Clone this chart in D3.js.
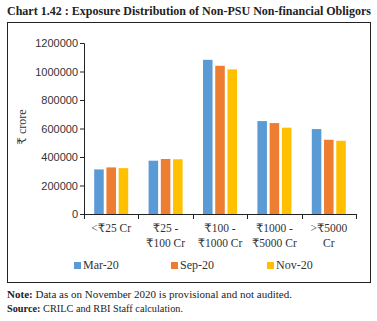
<!DOCTYPE html>
<html>
<head>
<meta charset="utf-8">
<script src="https://cdn.jsdelivr.net/npm/d3@7/dist/d3.min.js"></script>
<style>
  body { margin: 0; background: #fff; }
  svg { display: block; }
  .serif { font-family: "Liberation Serif", "DejaVu Serif", "Noto Sans", serif; }
  .sans { font-family: "Liberation Sans", "DejaVu Sans", sans-serif; }
</style>
</head>
<body>
<div id="chart"></div>
<script>
const CATEGORIES = [
  ["<\u20B925 Cr"],
  ["\u20B925 -", "\u20B9100 Cr"],
  ["\u20B9100 -", "\u20B91000 Cr"],
  ["\u20B91000 -", "\u20B95000 Cr"],
  [">\u20B95000", "Cr"]
];
const SERIES = ["Mar-20", "Sep-20", "Nov-20"];
const MAR_20 = [313000, 374000, 1082000, 652000, 596000];
const SEP_20 = [327000, 386000, 1040000, 638000, 521000];
const NOV_20 = [322000, 384000, 1015000, 606000, 514000];
const Y_TICKS = [0, 200000, 400000, 600000, 800000, 1000000, 1200000];
const COLORS = ["#5B9BD5", "#ED7D31", "#FFC000"];

const VALUES = [MAR_20, SEP_20, NOV_20];

const WIDTH = 377;
const HEIGHT = 321;
const PLOT = { LEFT: 84, RIGHT: 356, TOP: 43, BOTTOM: 214 };

const SVG = d3.select("#chart").append("svg")
  .attr("width", WIDTH)
  .attr("height", HEIGHT);

// title
SVG.append("text")
  .attr("class", "serif")
  .attr("x", 7)
  .attr("y", 15)
  .attr("font-size", 12)
  .attr("font-weight", "bold")
  .attr("fill", "#222")
  .attr("textLength", 364)
  .attr("lengthAdjust", "spacingAndGlyphs")
  .text("Chart 1.42 : Exposure Distribution of Non-PSU Non-financial Obligors");

// frame
SVG.append("rect")
  .attr("x", 7.5)
  .attr("y", 22.5)
  .attr("width", 363)
  .attr("height", 260)
  .attr("fill", "none")
  .attr("stroke", "#222")
  .attr("stroke-width", 1);

const X_SCALE = d3.scaleBand()
  .domain(d3.range(CATEGORIES.length))
  .range([PLOT.LEFT, PLOT.RIGHT])
  .paddingInner(0.375)
  .paddingOuter(0.1875);

const X_INNER = d3.scaleBand()
  .domain(d3.range(SERIES.length))
  .range([0, X_SCALE.bandwidth()])
  .paddingInner(0.22);

const Y_SCALE = d3.scaleLinear()
  .domain([0, 1200000])
  .range([PLOT.BOTTOM, PLOT.TOP]);

// bars
SERIES.forEach((s, si) => {
  SVG.append("g")
    .selectAll("rect")
    .data(VALUES[si])
    .enter()
    .append("rect")
    .attr("x", (d, i) => X_SCALE(i) + X_INNER(si))
    .attr("y", (d) => Y_SCALE(d))
    .attr("width", X_INNER.bandwidth())
    .attr("height", (d) => PLOT.BOTTOM - Y_SCALE(d))
    .attr("fill", COLORS[si]);
});

// y axis
const Y_AXIS = SVG.append("g")
  .attr("transform", "translate(" + PLOT.LEFT + ",0)")
  .call(d3.axisLeft(Y_SCALE).tickValues(Y_TICKS).tickSize(4).tickPadding(2).tickFormat(d3.format("d")));
Y_AXIS.select(".domain").attr("stroke", "#222");
Y_AXIS.selectAll(".tick line").attr("stroke", "#222");
Y_AXIS.selectAll(".tick text")
  .attr("class", "sans")
  .attr("font-size", 11)
  .attr("fill", "#333");

// x axis line and ticks at band edges
const EDGES = d3.range(CATEGORIES.length + 1).map((i) =>
  i < CATEGORIES.length ? X_SCALE(i) - X_SCALE.step() * X_SCALE.paddingInner() / 2 : PLOT.RIGHT
);
EDGES[0] = PLOT.LEFT;
SVG.append("line")
  .attr("x1", PLOT.LEFT).attr("x2", PLOT.RIGHT)
  .attr("y1", PLOT.BOTTOM + 0.5).attr("y2", PLOT.BOTTOM + 0.5)
  .attr("stroke", "#222");
SVG.append("g")
  .selectAll("line")
  .data(EDGES)
  .enter()
  .append("line")
  .attr("x1", (d) => Math.round(d) + 0.5)
  .attr("x2", (d) => Math.round(d) + 0.5)
  .attr("y1", PLOT.BOTTOM)
  .attr("y2", PLOT.BOTTOM + 5)
  .attr("stroke", "#222");

// category labels
const CAT_LABELS = SVG.append("g")
  .selectAll("text")
  .data(CATEGORIES)
  .enter()
  .append("text")
  .attr("class", "serif")
  .attr("font-size", 11.5)
  .attr("fill", "#333")
  .attr("text-anchor", "middle");
CAT_LABELS.selectAll("tspan")
  .data((d, i) => d.map((line) => ({ line: line, i: i })))
  .enter()
  .append("tspan")
  .attr("x", (d) => X_SCALE(d.i) + X_SCALE.bandwidth() / 2)
  .attr("y", (d, j) => 232 + j * 15)
  .text((d) => d.line);

// y axis title
SVG.append("text")
  .attr("class", "serif")
  .attr("font-size", 12)
  .attr("fill", "#333")
  .attr("text-anchor", "middle")
  .attr("transform", "translate(26,127) rotate(-90)")
  .text("\u20B9 crore");

// legend
const LEGEND_X = [74, 171, 267];
const LEGEND = SVG.append("g")
  .selectAll("g")
  .data(SERIES)
  .enter()
  .append("g")
  .attr("transform", (d, i) => "translate(" + LEGEND_X[i] + ",265)");
LEGEND.append("rect")
  .attr("x", 0).attr("y", -3)
  .attr("width", 7).attr("height", 7)
  .attr("fill", (d, i) => COLORS[i]);
LEGEND.append("text")
  .attr("class", "serif")
  .attr("x", 9)
  .attr("y", 4)
  .attr("font-size", 12)
  .attr("fill", "#333")
  .text((d) => d);

// notes
const NOTE = SVG.append("text")
  .attr("class", "serif")
  .attr("x", 7)
  .attr("y", 298)
  .attr("font-size", 10.5)
  .attr("fill", "#222")
  .attr("textLength", 285)
  .attr("lengthAdjust", "spacingAndGlyphs");
NOTE.append("tspan").attr("font-weight", "bold").text("Note: ");
NOTE.append("tspan").text("Data as on November 2020 is provisional and not audited.");

const SOURCE = SVG.append("text")
  .attr("class", "serif")
  .attr("x", 7)
  .attr("y", 312)
  .attr("font-size", 10.5)
  .attr("fill", "#222")
  .attr("textLength", 176)
  .attr("lengthAdjust", "spacingAndGlyphs");
SOURCE.append("tspan").attr("font-weight", "bold").text("Source: ");
SOURCE.append("tspan").text("CRILC and RBI Staff calculation.");
</script>
</body>
</html>
